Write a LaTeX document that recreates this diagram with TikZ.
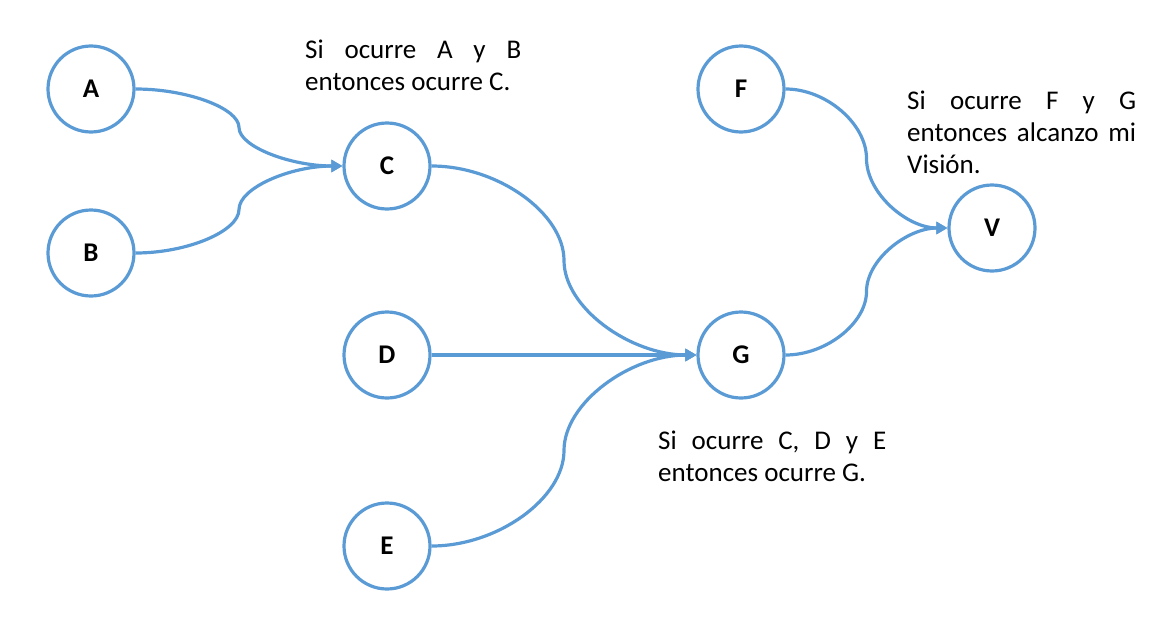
\documentclass[tikz,border=0pt]{standalone}
\usepackage{fontspec}
\setmainfont{Carlito}
\usetikzlibrary{arrows.meta,calc}
\definecolor{azul}{HTML}{5B9BD5}
\hbadness=10000\relax
\tolerance=10000\relax
\tikzset{
  evento/.style={circle, draw=azul, line width=3.2pt, fill=white, minimum size=86pt, inner sep=0pt,
    font=\fontsize{27}{30}\selectfont\bfseries},
  nota/.style={anchor=base west, align=justify, inner sep=0pt,
    font=\fontsize{27}{32}\selectfont},
  flecha/.style={draw=azul, line width=3.2pt, -{Triangle[length=11pt,width=12pt]},
    to path={let \p1=(\tikztostart), \p2=(\tikztotarget) in
      .. controls ({0.75*\x1+0.25*\x2},\y1) and ({0.5*\x1+0.5*\x2},{0.75*\y1+0.25*\y2})
      .. ({0.5*\x1+0.5*\x2},{0.5*\y1+0.5*\y2})
      .. controls ({0.5*\x1+0.5*\x2},{0.25*\y1+0.75*\y2}) and ({0.25*\x1+0.75*\x2},\y2)
      .. (\tikztotarget)}}
}
\begin{document}
\begin{tikzpicture}[x=1pt, y=-1pt]
                \useasboundingbox (0,0) rectangle (1167,629);
                
                % eventos
                \node[evento] (A) at (91,89) {A};
                \node[evento] (B) at (91,253) {B};
                \node[evento] (C) at (387,166) {C};
                \node[evento] (D) at (387,355) {D};
                \node[evento] (E) at (387,546) {E};
                \node[evento] (F) at (741,89) {F};
                \node[evento] (G) at (741,355) {G};
                \node[evento] (V) at (992,228) {V};
                
                % conexiones
                \draw[flecha] (A.east) to (C.west);
                \draw[flecha] (B.east) to (C.west);
                \draw[flecha] (C.east) to (G.west);
                \draw[flecha] (D.east) to (G.west);
                \draw[flecha] (E.east) to (G.west);
                \draw[flecha] (F.east) to (V.west);
                \draw[flecha] (G.east) to (V.west);
                
                % textos
                \node[nota, text width=216pt] (notaC) at (305,58) {Si ocurre A y B\linebreak entonces ocurre C.};
                \node[nota, text width=229pt] (notaV) at (907,109) {Si ocurre F y G\linebreak entonces alcanzo mi\linebreak Visión.};
                \node[nota, text width=228pt] (notaG) at (658,449) {Si ocurre C, D y E\linebreak entonces ocurre G.};
\end{tikzpicture}
\end{document}
